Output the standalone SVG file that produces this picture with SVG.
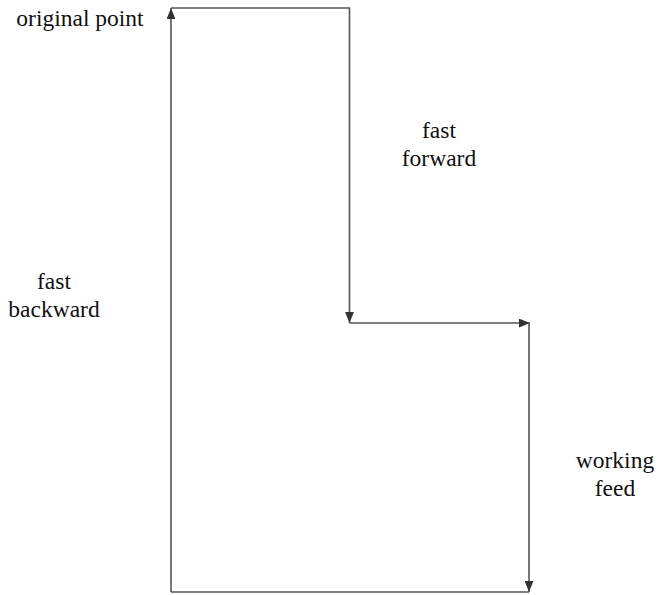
<svg xmlns="http://www.w3.org/2000/svg" width="658" height="595" viewBox="0 0 658 595">
<style>
.ln{fill:none;stroke:#555;stroke-width:1.6}
.t{font-family:"Liberation Serif","Times New Roman","DejaVu Serif",serif;font-size:23.5px;fill:#111;text-anchor:middle}
</style>
<defs>
<marker id="ah" viewBox="0 0 10 8" refX="10" refY="4" markerWidth="11" markerHeight="9" markerUnits="userSpaceOnUse" orient="auto">
<path d="M0,0 L10,4 L0,8 Z" fill="#333"/>
</marker>
</defs>
<rect width="658" height="595" fill="#fff"/>
<g id="connectors">
<path class="ln" d="M171,592 L171,8" marker-end="url(#ah)"/>
<path class="ln" d="M171,8 L349.5,8 L349.5,323" marker-end="url(#ah)"/>
<path class="ln" d="M349.5,323 L530,323" marker-end="url(#ah)"/>
<path class="ln" d="M529,323 L529,592" marker-end="url(#ah)"/>
<path class="ln" d="M529,592 L171,592"/>
</g>
<g id="original-point"><text class="t" x="80" y="26">original point</text></g>
<g id="fast-forward"><text class="t" x="439" y="138">fast</text><text class="t" x="439" y="166">forward</text></g>
<g id="fast-backward"><text class="t" x="54" y="289">fast</text><text class="t" x="54" y="317">backward</text></g>
<g id="working-feed"><text class="t" x="615" y="468">working</text><text class="t" x="615" y="496">feed</text></g>
</svg>
